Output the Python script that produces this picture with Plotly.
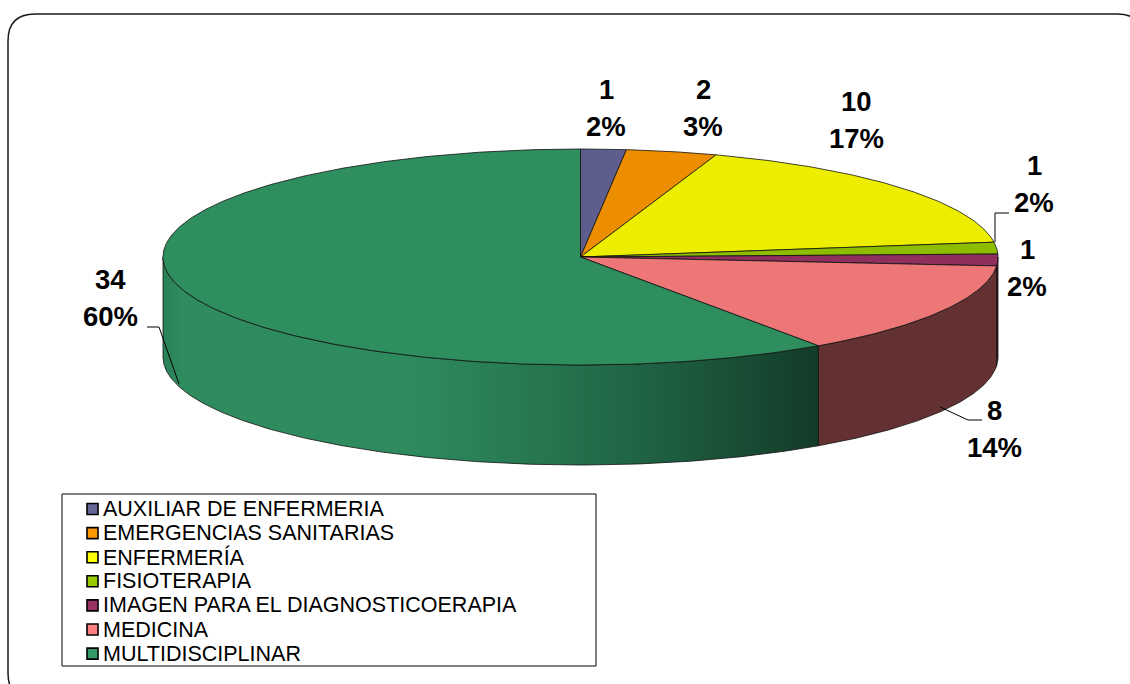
import numpy as np
import plotly.graph_objects as go

# ---------------- data ----------------
categories = ["AUXILIAR DE ENFERMERIA", "EMERGENCIAS SANITARIAS", "ENFERMERÍA",
              "FISIOTERAPIA", "IMAGEN PARA EL DIAGNOSTICOERAPIA", "MEDICINA",
              "MULTIDISCIPLINAR"]
values = [1, 2, 10, 1, 1, 8, 34]
pct_labels = ["2%", "3%", "17%", "2%", "2%", "14%", "60%"]

# ---------------- style / layout ----------------
palette = ["#666699", "#FF9900", "#FFFF00", "#99CC00", "#993366", "#FF8080", "#339966"]
W, H = 1130, 684
cx, cy, rx, ry, depth = 580.5, 257.0, 417.5, 108.0, 100.0
# label anchor positions (pixels) for each slice (center between the two lines)
label_pos = [(606, 108), (703, 108), (856, 120), (1034, 184), (1027, 268), (994, 429), (110, 298)]
LINE_GAP = 18.5
FONT = "Liberation Sans, Arial, sans-serif"
# legend geometry (pixels)
LEG_X0, LEG_Y0, LEG_X1, LEG_Y1 = 62, 494, 596, 666
LEG_SYM_X, LEG_TXT_X, LEG_ROW0, LEG_STEP = 92.5, 101, 509, 24.1


def shade(hexc, f):
    h = hexc.lstrip("#")
    r, g, b = (int(h[i:i + 2], 16) for i in (0, 2, 4))
    return "#%02X%02X%02X" % (int(r * f), int(g * f), int(b * f))


def ell(theta_deg, dy=0.0):
    t = np.radians(theta_deg)
    return cx + rx * np.sin(t), cy - ry * np.cos(t) + dy


total = float(sum(values))
cum = np.concatenate([[0.0], np.cumsum(values)]) / total * 360.0

fig = go.Figure()

# ---- side walls (front half: 90..270 deg) ----
for i, v in enumerate(values):
    a0, a1 = cum[i], cum[i + 1]
    s0, s1 = max(a0, 90.0), min(a1, 270.0)
    if s1 <= s0:
        continue
    th = np.linspace(s0, s1, max(3, int((s1 - s0) / 0.5)))
    xt, yt = ell(th)
    xb, yb = ell(th[::-1], depth)
    xs = np.concatenate([xt, xb, xt[:1]])
    ys = np.concatenate([yt, yb, yt[:1]])
    kw = {}
    if categories[i] == "MULTIDISCIPLINAR":
        kw["fillgradient"] = dict(
            type="horizontal", start=float(np.min(xs)), stop=float(np.max(xs)),
            colorscale=[[0.0, "#2A8157"], [0.03, "#2E8C5F"], [0.38, "#2E8B5E"],
                        [0.58, "#26764F"], [0.78, "#1D5C3F"], [1.0, "#133B28"]])
    else:
        kw["fillcolor"] = shade(palette[i], 0.39)
    fig.add_trace(go.Scatter(x=xs, y=ys, mode="lines", fill="toself",
                             line=dict(color="#111111", width=0.8),
                             hoverinfo="skip", showlegend=False, **kw))

# ---- top faces ----
for i, v in enumerate(values):
    a0, a1 = cum[i], cum[i + 1]
    th = np.linspace(a0, a1, max(3, int((a1 - a0) / 0.5)))
    xa, ya = ell(th)
    xs = np.concatenate([[cx], xa, [cx]])
    ys = np.concatenate([[cy], ya, [cy]])
    fig.add_trace(go.Scatter(x=xs, y=ys, mode="lines", fill="toself",
                             fillcolor=shade(palette[i], 0.93),
                             line=dict(color="#111111", width=0.8),
                             name=categories[i],
                             hovertemplate=f"{categories[i]}: {v} ({pct_labels[i]})<extra></extra>",
                             showlegend=False))

# ---- legend (drawn as markers + text for Excel-like tight rows) ----
rows = np.arange(len(categories))
fig.add_trace(go.Scatter(x=[LEG_SYM_X] * len(categories), y=LEG_ROW0 + rows * LEG_STEP,
                         mode="markers", hoverinfo="skip", showlegend=False,
                         marker=dict(symbol="square", size=11, color=palette,
                                     line=dict(color="black", width=1.6))))
for i, c in enumerate(categories):
    fig.add_annotation(x=LEG_TXT_X, y=LEG_ROW0 + i * LEG_STEP, xref="x", yref="y",
                       text=c, showarrow=False, xanchor="left", yanchor="middle",
                       font=dict(family=FONT, size=21.5, color="black"))

# ---- data labels ----
for i, v in enumerate(values):
    lx, ly = label_pos[i]
    for txt, yy in ((str(v), ly - LINE_GAP), (pct_labels[i], ly + LINE_GAP)):
        fig.add_annotation(x=lx, y=yy, xref="x", yref="y", showarrow=False,
                           text=txt, xanchor="center", yanchor="middle",
                           font=dict(family=FONT, size=27.5, color="black", weight="bold"))

shapes = [
    # outer rounded frame
    dict(type="path", xref="x", yref="y",
         path="M 35 14 L 1117 14 Q 1144 14 1144 41 L 1144 673 Q 1144 700 1117 700 "
              "L 35 700 Q 8 700 8 673 L 8 41 Q 8 14 35 14 Z",
         line=dict(color="#1a1a1a", width=1.5)),
    # legend box
    dict(type="rect", xref="x", yref="y", x0=LEG_X0, y0=LEG_Y0, x1=LEG_X1, y1=LEG_Y1,
         line=dict(color="black", width=1)),
    # leader lines
    dict(type="path", xref="x", yref="y", path="M 995 242 L 995 213 L 1009 213",
         line=dict(color="black", width=1)),
    dict(type="path", xref="x", yref="y", path="M 940 407 L 968 420 L 982 420",
         line=dict(color="black", width=1)),
    dict(type="path", xref="x", yref="y", path="M 147 327 L 159 327 L 179 384",
         line=dict(color="black", width=1)),
]

fig.update_layout(
    width=W, height=H,
    margin=dict(l=0, r=0, t=0, b=0),
    paper_bgcolor="white", plot_bgcolor="white",
    xaxis=dict(range=[0, W], visible=False, fixedrange=True),
    yaxis=dict(range=[H, 0], visible=False, fixedrange=True),
    shapes=shapes,
    showlegend=False,
)

fig.write_html("out.html", config={"displayModeBar": False},
               post_script="document.body.style.margin='0';document.body.style.overflow='hidden';")
